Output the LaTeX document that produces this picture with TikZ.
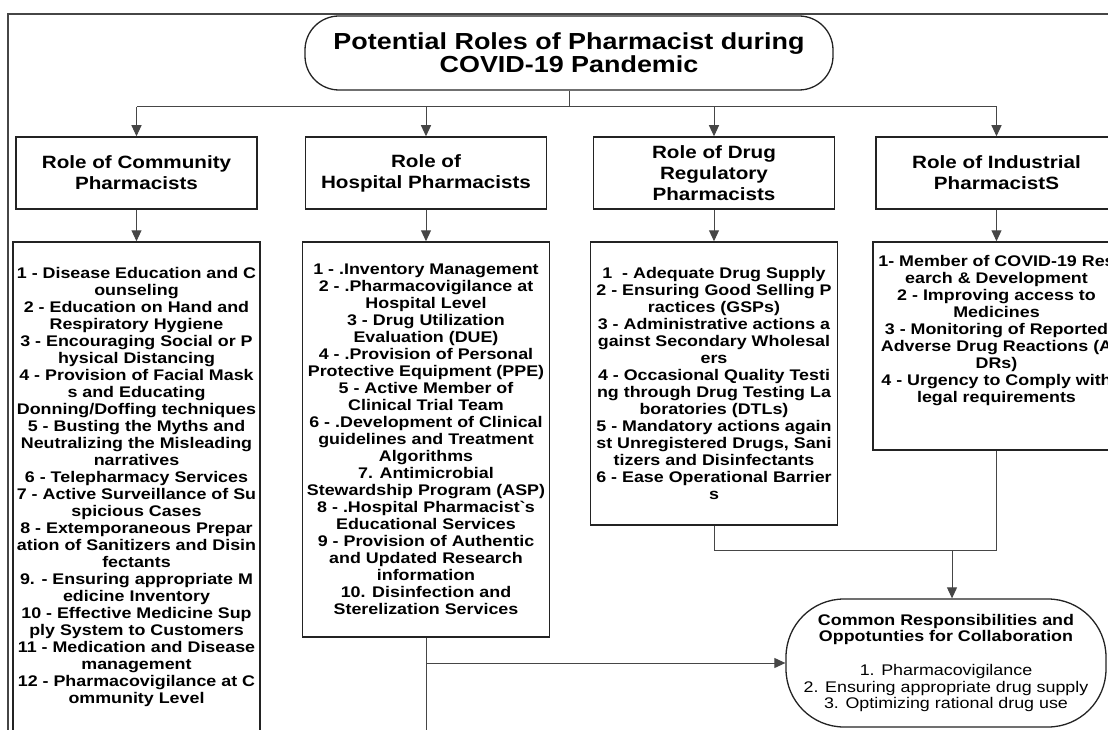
\documentclass[tikz,border=0pt]{standalone}
\usepackage{fontspec}
\setmainfont{Liberation Sans}[FakeStretch=1.16]
\usepackage{xcolor}
\usetikzlibrary{shapes.geometric,arrows.meta,positioning,calc}
\definecolor{linegray}{RGB}{70,70,70}
\definecolor{boxgray}{RGB}{35,35,35}

\begin{document}
\begin{tikzpicture}[
            x=1pt,y=-1pt,
            >={Triangle[length=11pt,width=10pt]},
            title node/.style={draw=boxgray,line width=1.3pt,rounded corners=34pt,minimum width=528pt,minimum height=74pt,align=center,font=\bfseries\fontsize{23.2}{23}\selectfont},
            head node/.style={rectangle,draw=boxgray,line width=1.5pt,minimum width=241pt,minimum height=72pt,align=center,font=\bfseries\fontsize{17.8}{21}\selectfont},
            list node/.style={rectangle,draw=boxgray,line width=1.5pt,minimum width=247pt,inner sep=0pt,align=center,font=\bfseries\fontsize{15.4}{17}\selectfont},
            common node/.style={rectangle,draw=boxgray,line width=1.3pt,rounded corners=58pt,minimum width=320pt,minimum height=128pt,inner sep=0pt,align=center,font=\fontsize{15.4}{16.7}\selectfont},
            link/.style={draw=linegray,line width=1pt}
        ]
            \useasboundingbox (0,0) rectangle (1108,730);
            \clip (0,0) rectangle (1108,730);
            \draw[linegray,line width=1.5pt] (8,740) -- (8,14) -- (1120,14);

            \node[title node] (title) at (569,53) {Potential Roles of Pharmacist during\\COVID-19 Pandemic};

            \node[head node] (comm) at (136.5,173) {Role of Community\\Pharmacists};
            \node[head node] (hosp) at (426,173) {Role of\\Hospital Pharmacists};
            \node[head node] (reg) at (714,173) {Role of Drug\\Regulatory\\Pharmacists};
            \node[head node] (ind) at (996.5,173) {Role of Industrial\\PharmacistS};

            \node[list node,minimum height=491pt] (commlist) at (136.5,487.5) {1 - Disease Education and C\\ounseling\\2 - Education on Hand and\\Respiratory Hygiene\\3 - Encouraging Social or P\\hysical Distancing\\4 - Provision of Facial Mask\\s and Educating\\Donning/Doffing techniques\\5 - Busting the Myths and\\Neutralizing the Misleading\\narratives\\6 - Telepharmacy Services\\7 - Active Surveillance of Su\\spicious Cases\\8 - Extemporaneous Prepar\\ation of Sanitizers and Disin\\fectants\\9. - Ensuring appropriate M\\edicine Inventory\\10 - Effective Medicine Sup\\ply System to Customers\\11 - Medication and Disease\\management\\12 - Pharmacovigilance at C\\ommunity Level};
            \node[list node,minimum height=395pt] (hosplist) at (426,439.5) {1 - .Inventory Management\\2 - .Pharmacovigilance at\\Hospital Level\\3 - Drug Utilization\\Evaluation (DUE)\\4 - .Provision of Personal\\Protective Equipment (PPE)\\5 - Active Member of\\Clinical Trial Team\\6 - .Development of Clinical\\guidelines and Treatment\\Algorithms\\7. Antimicrobial\\Stewardship Program (ASP)\\8 - .Hospital Pharmacist\textasciigrave s\\Educational Services\\9 - Provision of Authentic\\and Updated Research\\information\\10. Disinfection and\\Sterelization Services};
            \node[list node,minimum height=283pt] (reglist) at (714,383.5) {1~ - Adequate Drug Supply\\2 - Ensuring Good Selling P\\ractices (GSPs)\\3 - Administrative actions a\\gainst Secondary Wholesal\\ers\\4 - Occasional Quality Testi\\ng through Drug Testing La\\boratories (DTLs)\\5 - Mandatory actions again\\st Unregistered Drugs, Sani\\tizers and Disinfectants\\6 - Ease Operational Barrier\\s};
            \node[list node,minimum height=208pt] (indlist) at (996.5,346) {1- Member of COVID-19 Res\\earch \& Development\\2 - Improving access to\\Medicines\\3 - Monitoring of Reported\\Adverse Drug Reactions (A\\DRs)\\4 - Urgency to Comply with\\legal requirements\\[17pt]};

            \node[common node] (common) at (946,663) {\textbf{Common Responsibilities and}\\\textbf{Oppotunties for Collaboration}\\[16.7pt]1. Pharmacovigilance\\2. Ensuring appropriate drug supply\\3. Optimizing rational drug use};

            % tree from the title
            \coordinate (top) at (569,107);
            \draw[link] (title) -- (top);
            \draw[link] (comm |- top) -- (ind |- top);
            \foreach \n in {comm,hosp,reg,ind} {
                \draw[link,->] (\n |- top) -- (\n.north);
                \draw[link,->] (\n.south) -- (\n list.north);
            }

            % links to the common responsibilities
            \coordinate (hosplow) at (hosplist.south |- 0,740);
            \coordinate (hj) at (hosplist.south |- common.west);
            \draw[link] (hosplist.south) -- (hosplow);
            \draw[link,->] (hj) -- (common.west);
            \coordinate (rj) at (indlist.south |- 0,550);
            \draw[link] (reglist.south) |- (rj) -- (indlist.south);
            \coordinate (cj) at (952,550);
            \draw[link,->] (cj) -- (cj |- common.north);
        \end{tikzpicture}
\end{document}
